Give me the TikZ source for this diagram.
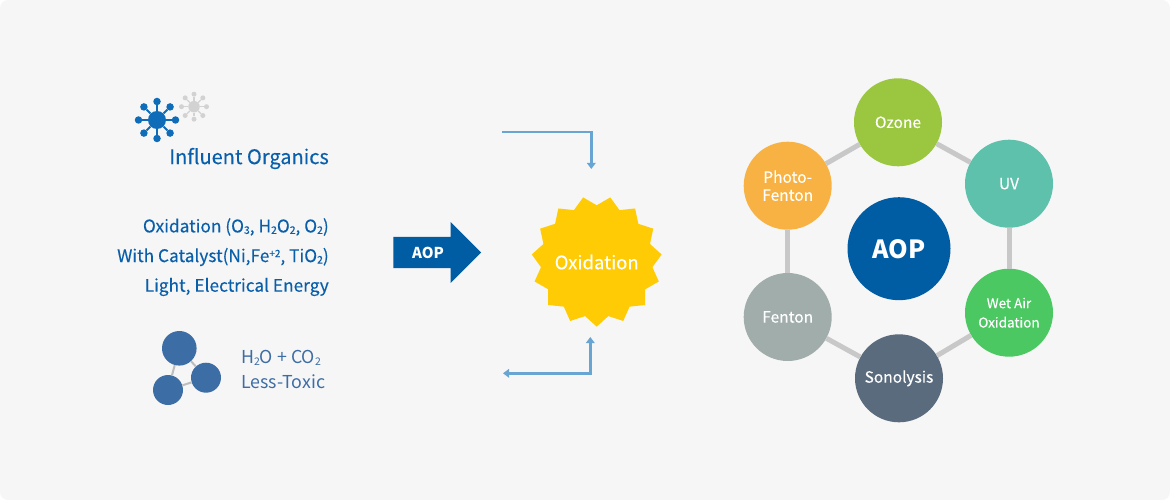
\documentclass[tikz,border=0pt]{standalone}
\usepackage{fontspec}
\setmainfont{Noto Sans CJK KR}
\newfontfamily\medfont{Noto Sans CJK KR}[FakeBold=0.22]
\usetikzlibrary{positioning,arrows.meta,shapes.geometric,shapes.arrows,calc}
\definecolor{panelbg}{HTML}{F6F6F6}
\definecolor{aopblue}{HTML}{005CA3}
\definecolor{txtblue}{HTML}{0A5FAB}
\definecolor{slateblue}{HTML}{3D6DA5}
\definecolor{virusblue}{HTML}{0F6CB8}
\definecolor{virusgray}{HTML}{D2D2D2}
\definecolor{flowblue}{HTML}{69A5D3}
\definecolor{sunyellow}{HTML}{FFCB05}
\definecolor{linkgray}{HTML}{C8C8C8}
\definecolor{ozonegreen}{HTML}{9AC73F}
\definecolor{uvteal}{HTML}{5DC1AB}
\definecolor{wetgreen}{HTML}{4BC862}
\definecolor{sonoslate}{HTML}{5A6B7E}
\definecolor{fentongray}{HTML}{A0ADAB}
\definecolor{photoorange}{HTML}{F8B243}
\newcommand{\lowsub}[1]{\raisebox{-1.5pt}{\fontsize{10.5}{12}\selectfont #1}}
\newcommand{\highsup}[1]{\raisebox{5pt}{\fontsize{10}{12}\selectfont #1}}
\tikzset{
  proc/.style={circle, fill=#1, text=white, align=center, minimum size=88pt, inner sep=0pt, font=\medfont\fontsize{15.5}{18}\selectfont},
  hub/.style={circle, fill=aopblue, text=white, minimum size=103pt, inner sep=0pt, font=\fontsize{25}{30}\selectfont\bfseries},
  link/.style={draw=linkgray, line width=5pt},
  flow/.style={-{Triangle[length=6pt,width=8.5pt]}, draw=flowblue, line width=2.7pt},
  bothflow/.style={{Triangle[length=6pt,width=8.5pt]}-{Triangle[length=6pt,width=8.5pt]}, draw=flowblue, line width=2.7pt},
  bluetxt/.style={text=txtblue, inner sep=0pt, anchor=east, font=\medfont\fontsize{17.3}{22}\selectfont},
  slatetxt/.style={text=slateblue, inner sep=0pt, anchor=west, font=\fontsize{17.8}{22}\selectfont},
  ball/.style={circle, fill=slateblue, minimum size=#1, inner sep=0pt},
  dot/.style={circle, fill=#1, inner sep=0pt}
}
\begin{document}
\begin{tikzpicture}[x=1pt,y=-1pt]
  \useasboundingbox (0,0) rectangle (1170,500);
  \fill[panelbg, rounded corners=8pt] (0,0) rectangle (1170,500);

  \node[dot=virusblue, minimum size=18pt] (virus) at (157,120) {};
  \foreach \a in {0,45,...,315} {
    \node[dot=virusblue, minimum size=7.5pt] (virus\a) at ($(virus.center)+(\a:18.5)$) {};
    \draw[virusblue, line width=1.8pt] (virus) -- (virus\a);
  }
  \node[dot=virusgray, minimum size=11.5pt] (ghost) at (194,106.7) {};
  \foreach \a in {0,45,...,315} {
    \node[dot=virusgray, minimum size=5pt] (ghost\a) at ($(ghost.center)+(\a:12.5)$) {};
    \draw[virusgray, line width=1.2pt] (ghost) -- (ghost\a);
  }

  \node[bluetxt, font=\medfont\fontsize{20}{24}\selectfont] (influent) at (329,158.5) {Influent Organics};
  \node[bluetxt] (oxline) at (329,227) {Oxidation (O\lowsub{3}, H\lowsub{2}O\lowsub{2}, O\lowsub{2})};
  \node[bluetxt] (catline) at (329,257) {With Catalyst(Ni,Fe\highsup{+2}, TiO\lowsub{2})};
  \node[bluetxt] (lightline) at (329,287) {Light, Electrical Energy};

  \node[ball=34.6pt] (bigball) at (179.3,348.3) {};
  \node[ball=30pt] (rightball) at (206,377.7) {};
  \node[ball=30pt] (leftball) at (168,390) {};
  \draw[linkgray!85!gray, line width=2pt] (bigball) -- (rightball);
  \draw[linkgray!85!gray, line width=2pt] (bigball) -- (leftball);
  \draw[linkgray!85!gray, line width=2pt] (leftball) -- (rightball);
  \node[slatetxt] (water) at (241,358) {H\lowsub{2}O + CO\lowsub{2}};
  \node[slatetxt] (toxic) at (241,382) {Less-Toxic};

  \node[single arrow, fill=aopblue, text height=15.35pt, text depth=15.35pt, minimum height=87.7pt, minimum width=60.4pt, single arrow head extend=14.85pt, single arrow head indent=0pt, inner sep=0pt] (bigarrow) at (429.5,252.5) {};
  \node[text=white, inner sep=0pt, font=\fontsize{15}{18}\selectfont\bfseries] (arrowlbl) at (428,252.5) {AOP};

  \node[star, star points=15, star point ratio=1.166, shape border rotate=180, fill=sunyellow, minimum size=130.6pt, inner sep=0pt] (burst) at (596.7,261.3) {};
  \node[text=white, inner sep=0pt, font=\medfont\fontsize{18.5}{22}\selectfont] (oxidation) at (596.7,262) {Oxidation};

  \coordinate (instart) at (502,132);
  \coordinate (inend) at (591.3,169);
  \coordinate (outstart) at (590.3,337);
  \coordinate (outend) at (503,373.3);
  \draw[flow] (instart) -| (inend);
  \draw[bothflow] (outstart) |- (outend);

  \node[hub] (aop) at (899,248.7) {AOP};
  \node[proc=ozonegreen] (ozone) at (898,122.3) {Ozone};
  \node[proc=uvteal] (uv) at (1009,183.7) {UV};
  \node[proc=wetgreen, font=\medfont\fontsize{13.5}{19.3}\selectfont] (wetair) at (1009,312.7) {Wet Air\\Oxidation};
  \node[proc=sonoslate] (sono) at (899,378.3) {Sonolysis};
  \node[proc=fentongray] (fenton) at (787.7,317) {Fenton};
  \node[proc=photoorange] (photo) at (787.7,185.7) {Photo-\\Fenton};
  \foreach \p/\q in {ozone/uv,uv/wetair,wetair/sono,sono/fenton,fenton/photo,photo/ozone} \draw[link] (\p) -- (\q);
\end{tikzpicture}
\end{document}
